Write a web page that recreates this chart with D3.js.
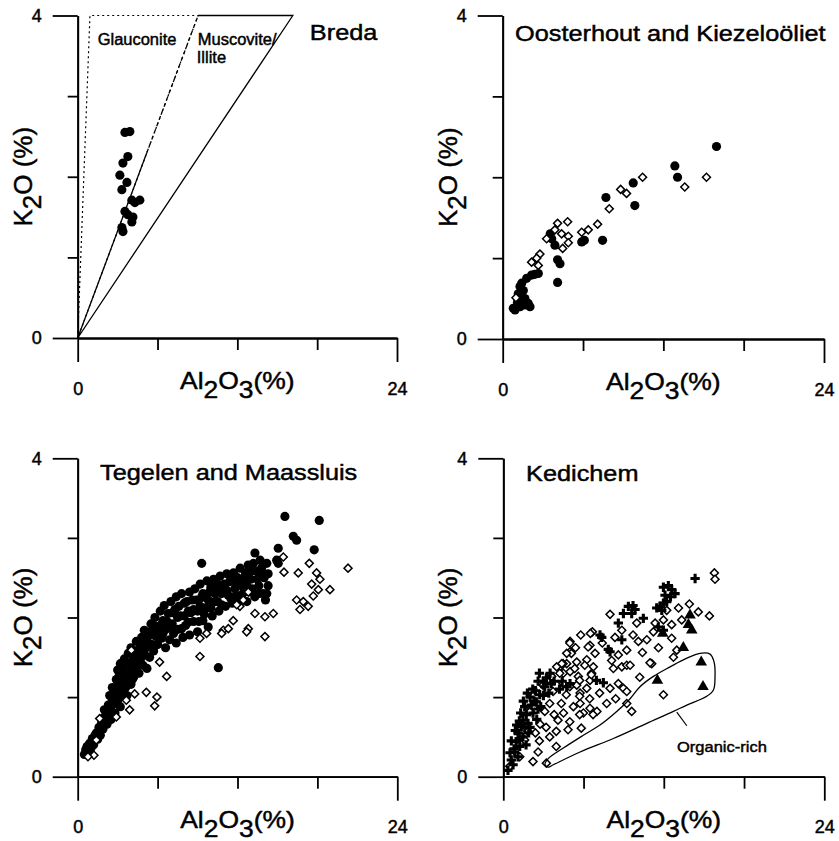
<!DOCTYPE html>
<html>
<head>
<meta charset="utf-8">
<script src="https://cdn.jsdelivr.net/npm/d3@7"></script>
<style>
  body { margin: 0; background: #fff; }
  svg { display: block; }
  text { stroke: #000; stroke-width: 0.45px; }
</style>
</head>
<body>
<svg width="839" height="841"></svg>
<script>
'use strict'

const FONT = '"Liberation Sans", Arial, Helvetica, sans-serif';
const STRETCH = 1.15;

// axis ticks
const majorX = [0, 24];
const minorX = [6, 12, 18];
const majorY = [0, 4];
const minorY = [1, 2, 3];

// panel titles
const titles = ['Breda', 'Oosterhout and Kiezeloöliet', 'Tegelen and Maassluis', 'Kedichem'];

// Breda: clay mineral fields (Al2O3 %, K2O %)
const glauconiteField = [[0, 0], [0.92, 4], [9.05, 4]];
const muscoviteField = [[5.2, 2.3], [0, 0], [16.17, 4], [9.05, 4]];
const muscoviteDashed = [[5.2, 2.3], [9.05, 4]];

const bredaCircles = [
  [3.55, 2.55], [3.92, 2.56], [3.77, 2.25], [3.40, 2.17], [3.17, 2.02], [3.70, 1.93],
  [3.32, 1.84], [4.07, 1.71], [4.67, 1.71], [4.30, 1.68], [3.55, 1.57], [3.77, 1.53],
  [4.15, 1.50], [4.07, 1.44], [3.32, 1.37], [3.40, 1.32]
];

// Oosterhout and Kiezeloöliet
const oostCircles = [
  [15.97, 2.38], [12.86, 2.14], [13.06, 2.00], [9.87, 1.65], [9.75, 1.93], [7.71, 1.75],
  [7.46, 1.22], [5.90, 1.20], [6.10, 1.22], [4.10, 0.98], [4.28, 0.93], [4.10, 0.70],
  [3.66, 1.24], [3.90, 1.16], [3.55, 1.30], [2.66, 0.81], [2.40, 0.80], [2.16, 0.79],
  [1.79, 0.75], [1.42, 0.69], [1.29, 0.65], [1.16, 0.56], [1.91, 0.44], [1.66, 0.42],
  [2.04, 0.40], [0.92, 0.36], [0.79, 0.38], [1.54, 0.60], [1.66, 0.50], [1.40, 0.50],
  [1.10, 0.45], [1.30, 0.40]
];
const oostDiamonds = [
  [15.22, 2.00], [13.60, 1.88], [10.45, 2.00], [8.81, 1.85], [9.25, 1.80], [7.96, 1.61],
  [7.09, 1.42], [6.39, 1.35], [5.90, 1.32], [4.85, 1.45], [4.10, 1.43], [4.40, 1.30],
  [4.90, 1.27], [4.90, 1.19], [4.48, 1.12], [3.90, 1.35], [3.28, 1.24], [2.78, 1.05],
  [2.54, 1.00], [2.16, 0.95], [2.66, 0.91], [0.99, 0.51]
];

// Tegelen and Maassluis
const tegelenCircles = [
  [0.5, 0.28], [0.6, 0.34], [0.7, 0.38], [0.8, 0.30], [0.9, 0.42], [1.0, 0.36], [1.1, 0.48], [1.2, 0.40],
  [1.3, 0.52], [1.4, 0.55], [1.5, 0.47], [1.6, 0.62], [1.7, 0.52], [1.7, 0.60], [1.8, 0.68], [1.9, 0.60],
  [2.0, 0.75], [2.0, 0.84], [2.1, 0.70], [2.2, 0.66], [2.3, 0.90], [2.3, 0.78], [2.4, 1.02], [2.4, 0.82],
  [2.5, 0.72], [2.5, 0.88], [2.6, 1.12], [2.6, 0.96], [2.7, 0.94], [2.8, 0.80], [2.8, 1.05], [2.9, 1.22],
  [2.9, 0.92], [2.9, 1.06], [3.0, 1.34], [3.0, 1.14], [3.0, 0.96], [3.1, 1.00], [3.1, 1.26], [3.2, 1.42],
  [3.2, 0.88], [3.3, 1.14], [3.3, 1.30], [3.4, 1.05], [3.4, 1.20], [3.4, 1.36], [3.5, 1.48], [3.5, 1.25],
  [3.6, 1.12], [3.6, 1.28], [3.7, 1.02], [3.7, 1.42], [3.8, 1.55], [3.8, 1.20], [3.9, 1.40], [4.0, 1.16],
  [4.0, 1.32], [4.0, 1.62], [4.1, 1.45], [4.1, 1.22], [4.2, 1.25], [4.2, 1.52], [4.3, 1.58], [4.3, 1.38],
  [4.4, 1.70], [4.5, 1.40], [4.5, 1.58], [4.6, 1.30], [4.6, 1.48], [4.7, 1.62], [4.8, 1.75], [4.8, 1.50],
  [4.9, 1.40], [4.9, 1.65], [5.0, 1.55], [5.0, 1.84], [5.1, 1.62], [5.2, 1.36], [5.2, 1.75], [5.3, 1.68],
  [5.4, 1.50], [5.4, 1.82], [5.5, 1.92], [5.6, 1.78], [5.6, 1.66], [5.7, 1.58], [5.7, 1.90], [5.8, 2.00],
  [5.9, 1.76], [6.0, 1.66], [6.0, 1.85], [6.2, 2.08], [6.2, 1.90], [6.3, 1.74], [6.4, 1.96], [6.4, 1.80],
  [6.5, 2.15], [6.6, 1.62], [6.6, 1.85], [6.7, 1.95], [6.8, 2.05], [6.9, 1.72], [6.9, 1.88], [7.0, 2.20],
  [7.1, 1.92], [7.1, 2.06], [7.2, 1.80], [7.3, 2.10], [7.4, 1.68], [7.4, 2.26], [7.5, 1.85], [7.5, 2.00],
  [7.6, 2.14], [7.7, 2.02], [7.8, 2.30], [7.8, 1.86], [7.9, 1.75], [8.0, 2.18], [8.0, 2.02], [8.1, 1.90],
  [8.2, 2.20], [8.3, 2.08], [8.3, 1.94], [8.4, 2.32], [8.4, 1.78], [8.5, 2.06], [8.6, 2.22], [8.7, 1.95],
  [8.7, 2.10], [8.8, 2.36], [8.9, 2.22], [9.0, 2.08], [9.0, 1.82], [9.1, 1.95], [9.2, 2.42], [9.2, 2.14],
  [9.3, 2.25], [9.4, 1.96], [9.4, 2.30], [9.5, 2.04], [9.6, 2.12], [9.7, 2.46], [9.8, 1.88], [9.8, 2.22],
  [9.9, 2.32], [10.0, 2.38], [10.0, 2.12], [10.1, 2.02], [10.2, 2.48], [10.3, 2.20], [10.3, 2.30],
  [10.4, 2.38], [10.5, 2.20], [10.5, 2.42], [10.6, 2.08], [10.7, 2.52], [10.8, 2.30], [10.8, 2.16],
  [10.9, 2.38], [11.0, 2.42], [11.1, 2.14], [11.2, 2.55], [11.2, 2.34], [11.3, 2.28], [11.4, 2.45],
  [11.5, 2.24], [11.5, 2.50], [11.6, 2.18], [11.7, 2.56], [11.8, 2.36], [11.9, 2.28], [12.0, 2.50],
  [12.0, 2.42], [12.1, 2.22], [12.2, 2.62], [12.3, 2.40], [12.4, 2.30], [12.5, 2.50], [12.6, 2.56],
  [12.7, 2.20], [12.7, 2.40], [12.8, 2.66], [12.9, 2.32], [13.0, 2.48], [13.0, 2.58], [13.1, 2.36],
  [13.2, 2.68], [13.3, 2.26], [13.4, 2.58], [13.5, 2.48], [13.6, 2.40], [13.6, 2.30], [13.7, 2.72],
  [13.8, 2.62], [13.9, 2.30], [13.9, 2.56], [14.0, 2.50], [14.1, 2.22], [14.2, 2.68], [14.2, 2.30],
  [14.3, 2.40], [14.3, 2.55],
  [15.56, 3.27], [18.14, 3.22], [16.19, 3.02], [16.44, 2.97], [15.06, 2.87], [17.76, 2.85],
  [14.94, 2.72], [15.06, 2.68], [13.31, 2.81], [9.31, 2.68], [10.56, 1.37]
];
const tegelenDiamonds = [
  [20.30, 2.62], [18.94, 2.35], [17.39, 2.68], [16.56, 2.56], [15.49, 2.57], [17.94, 2.56],
  [18.19, 2.48], [17.57, 2.42], [18.07, 2.35], [17.69, 2.27], [16.44, 2.22], [16.94, 2.20],
  [17.31, 2.14], [16.69, 2.10], [14.06, 2.01], [14.69, 2.05], [14.06, 1.76], [13.31, 2.05],
  [11.68, 1.96], [12.81, 1.86], [12.69, 1.82], [10.93, 1.84], [10.81, 1.80], [11.31, 1.86],
  [9.18, 1.74], [9.18, 1.51], [9.68, 1.80], [12.43, 2.22], [12.81, 2.32], [12.18, 2.14],
  [11.94, 2.16], [15.44, 2.76], [6.68, 1.26], [6.15, 1.44], [5.15, 1.06], [5.95, 1.00],
  [5.78, 0.89], [4.28, 1.04], [3.90, 0.84], [3.65, 0.96], [4.03, 1.59], [2.90, 0.75],
  [1.65, 0.73], [1.22, 0.27], [0.77, 0.25], [1.40, 0.46]
];

// Kedichem
const kedichemDiamonds = [
  [15.78, 2.56], [15.83, 2.48], [13.91, 2.17], [14.58, 2.07], [15.41, 2.02], [13.34, 1.97],
  [12.59, 1.91], [11.97, 1.97], [11.35, 1.93], [12.59, 1.74], [12.97, 1.59], [12.72, 1.50],
  [11.10, 1.42], [11.97, 1.03], [7.98, 2.04], [5.79, 1.78], [6.66, 1.82], [4.99, 1.70],
  [6.48, 1.65], [6.86, 1.55], [8.35, 1.75], [8.86, 1.84], [9.98, 1.93], [11.22, 1.82],
  [12.22, 2.09], [10.10, 1.70], [10.73, 1.72], [9.23, 1.59], [8.60, 1.53], [8.23, 1.36],
  [8.86, 1.38], [9.23, 1.40], [9.48, 1.40], [10.97, 1.43], [4.74, 1.42], [5.49, 1.44],
  [6.24, 1.47], [6.73, 1.38], [4.24, 1.38], [4.49, 1.30], [4.99, 1.32], [5.61, 1.26],
  [6.61, 1.30], [6.48, 1.21], [6.24, 1.11], [5.49, 1.15], [5.74, 1.05], [7.98, 1.11],
  [8.60, 1.17], [8.98, 1.11], [9.23, 1.07], [7.73, 0.92], [9.23, 0.92], [7.00, 0.82],
  [9.60, 0.82], [6.48, 0.86], [5.74, 0.92], [5.99, 0.80], [5.24, 0.88], [4.99, 1.57],
  [4.97, 1.68], [6.51, 1.80], [6.34, 1.63], [5.09, 1.55], [4.47, 1.42], [6.09, 1.40],
  [4.22, 1.30], [5.34, 1.36], [6.58, 1.28], [5.71, 1.21], [4.97, 1.13], [4.47, 1.17],
  [3.47, 1.21], [2.97, 1.15], [3.72, 1.07], [4.71, 1.03], [5.71, 1.01], [6.46, 0.98],
  [4.34, 0.92], [3.47, 0.92], [1.97, 0.84], [3.10, 0.82], [5.71, 0.78], [6.71, 0.78],
  [4.09, 0.71], [4.97, 0.69], [4.84, 0.59], [5.83, 0.61], [3.96, 0.57], [3.47, 0.50],
  [3.96, 0.38], [2.60, 0.31], [2.22, 0.19], [3.22, 0.17], [1.85, 0.57], [1.60, 0.46],
  [1.23, 0.25], [0.48, 0.13], [4.74, 1.55], [4.37, 1.42], [3.25, 1.21], [3.62, 1.26],
  [3.99, 1.38], [2.00, 0.82], [2.75, 0.66], [3.20, 0.62], [2.40, 0.55], [4.50, 0.80],
  [7.40, 1.68], [8.10, 1.46], [10.40, 1.56], [11.60, 1.62], [10.20, 1.25], [7.20, 1.05],
  [8.40, 0.98], [3.80, 0.78], [2.70, 0.45], [5.40, 1.62], [9.70, 1.78], [13.10, 2.12]
];
const kedichemPlus = [
  [14.34, 2.49], [11.97, 2.38], [12.34, 2.40], [12.59, 2.35], [12.09, 2.28], [12.50, 2.26],
  [12.84, 2.30], [11.97, 2.18], [12.22, 2.20], [11.47, 2.12], [9.35, 2.14], [9.85, 2.10],
  [8.98, 2.05], [9.60, 2.05], [9.70, 2.15], [8.60, 1.93], [10.47, 1.99], [7.23, 1.78],
  [7.36, 1.75], [7.85, 1.60], [7.98, 1.57], [8.86, 1.72], [11.72, 2.14], [11.85, 2.09],
  [11.59, 1.88], [11.97, 1.84], [7.48, 1.18], [6.96, 1.21], [4.99, 1.17], [4.74, 1.13],
  [3.22, 1.24], [3.59, 1.17], [3.10, 1.13], [2.72, 1.03], [2.47, 0.94], [2.09, 0.90],
  [2.22, 0.80], [1.72, 0.78], [1.47, 0.71], [1.85, 0.67], [1.35, 0.63], [1.10, 0.55],
  [1.47, 0.50], [0.97, 0.44], [1.23, 0.38], [0.85, 0.31], [1.10, 0.25], [0.60, 0.21],
  [0.73, 0.15], [0.35, 0.08], [2.00, 1.00], [1.60, 0.88], [2.50, 0.72], [1.90, 0.55],
  [1.20, 0.48], [0.90, 0.58], [2.80, 0.88], [3.00, 1.02], [1.60, 0.62], [0.50, 0.30],
  [0.80, 0.35], [1.00, 0.65], [1.30, 0.80], [1.50, 0.95], [1.80, 1.05], [2.20, 1.10],
  [2.60, 1.20], [2.40, 1.08], [1.20, 0.70], [0.60, 0.45], [1.70, 0.40], [2.00, 0.62],
  [2.30, 0.95], [2.60, 0.85], [3.40, 1.05], [3.80, 1.20], [4.20, 1.10], [4.40, 1.20],
  [3.00, 1.20], [2.70, 1.30], [3.50, 1.30]
];
const kedichemTriangles = [
  [13.96, 2.03], [13.84, 1.91], [14.09, 1.84], [13.46, 1.62], [11.92, 1.80], [14.80, 1.44],
  [14.93, 1.13], [11.52, 1.21]
];
const organicOutline = [
  [3.12, 0.15], [3.37, 0.23], [4.49, 0.36], [5.98, 0.52], [7.23, 0.65], [8.48, 0.82],
  [9.48, 0.98], [10.22, 1.13], [11.22, 1.26], [12.47, 1.38], [13.72, 1.49], [14.71, 1.55],
  [15.46, 1.54], [15.76, 1.44], [15.83, 1.26], [15.71, 1.09], [15.21, 1.01], [13.72, 0.90],
  [12.72, 0.82], [10.73, 0.67], [8.23, 0.48], [5.74, 0.31], [3.74, 0.15], [3.37, 0.12]
];
const organicLeader = [[12.97, 0.81], [13.72, 0.64]];

const svg = d3.select('svg');

const panels = [
  { left: 77.7, right: 397, top: 15.5, bottom: 338, title: titles[0], titleAt: [17.45, 3.70] },
  { left: 502.7, right: 824, top: 15.5, bottom: 339, title: titles[1], titleAt: [0.92, 3.68] },
  { left: 77.7, right: 397.3, top: 458.3, bottom: 776.7, title: titles[2], titleAt: [1.68, 3.73] },
  { left: 503.3, right: 824.3, top: 458.3, bottom: 776.7, title: titles[3], titleAt: [1.70, 3.71] }
];

function styleAxis(sel) {
  sel.attr('font-size', 18).attr('font-family', FONT);
  sel.selectAll('path, line').attr('stroke', '#000').attr('stroke-width', 1.8);
  sel.selectAll('text').attr('fill', '#000');
}

// text placed at (px, py), stretched horizontally like the scanned lettering
function wideText(g, px, py, size, sx) {
  return g.append('text')
    .attr('transform', `translate(${px},${py}) scale(${sx},1)`)
    .attr('font-family', FONT).attr('font-size', size);
}

function drawFrame(p) {
  const x = d3.scaleLinear().domain([0, 24]).range([p.left, p.right]);
  const y = d3.scaleLinear().domain([0, 4]).range([p.bottom, p.top]);
  const g = svg.append('g');

  g.append('g').attr('transform', `translate(${p.left},0)`)
    .call(d3.axisLeft(y).tickValues(majorY).tickSize(25).tickPadding(11).tickSizeOuter(0).tickFormat(d3.format('d')))
    .call(styleAxis);
  g.append('g').attr('transform', `translate(${p.left},0)`)
    .call(d3.axisLeft(y).tickValues(minorY).tickSize(10).tickSizeOuter(0).tickFormat(''))
    .call(styleAxis);
  g.append('g').attr('transform', `translate(0,${p.bottom})`)
    .call(d3.axisBottom(x).tickValues(majorX).tickSize(24).tickPadding(20).tickSizeOuter(0).tickFormat(d3.format('d')))
    .call(styleAxis);
  g.append('g').attr('transform', `translate(0,${p.bottom})`)
    .call(d3.axisBottom(x).tickValues(minorX).tickSize(12).tickSizeOuter(0).tickFormat(''))
    .call(styleAxis);

  // x title: Al2O3(%)
  const xt = wideText(g, x(12), p.bottom + 51, 23, STRETCH).attr('text-anchor', 'middle');
  xt.append('tspan').text('Al');
  xt.append('tspan').attr('dy', 9).text('2');
  xt.append('tspan').attr('dy', -9).text('O');
  xt.append('tspan').attr('dy', 9).text('3');
  xt.append('tspan').attr('dy', -9).text('(%)');

  // y title: K2O (%)
  const yt = g.append('text')
    .attr('transform', `translate(${p.left - 46},${y(2)}) rotate(-90)`)
    .attr('text-anchor', 'middle')
    .attr('font-family', FONT).attr('font-size', 26);
  yt.append('tspan').text('K');
  yt.append('tspan').attr('dy', 9).text('2');
  yt.append('tspan').attr('dy', -9).text('O (%)');

  wideText(g, x(p.titleAt[0]), y(p.titleAt[1]), 22, STRETCH).text(p.title);

  return { g, x, y };
}

function drawMarks(c, data, kind) {
  let gen;
  if (kind === 'circle') gen = d3.symbol(d3.symbolCircle, 66);
  if (kind === 'diamond') gen = d3.symbol(d3.symbolSquare, 32);
  if (kind === 'plus') gen = d3.symbol(d3.symbolCross, 48);
  if (kind === 'triangle') gen = d3.symbol(d3.symbolTriangle, 58);
  c.g.append('g').selectAll('path')
    .data(data)
    .join('path')
    .attr('d', gen)
    .attr('transform', d => `translate(${c.x(d[0])},${c.y(d[1])})` + (kind === 'diamond' ? ' rotate(45)' : ''))
    .attr('fill', kind === 'diamond' ? '#fff' : '#000')
    .attr('stroke', kind === 'diamond' ? '#000' : 'none')
    .attr('stroke-width', 1.5);
}

const line = c => d3.line().x(d => c.x(d[0])).y(d => c.y(d[1]));

// Breda
const p1 = drawFrame(panels[0]);
p1.g.append('path').datum(glauconiteField)
  .attr('d', d => line(p1)(d) + 'Z')
  .attr('fill', 'none').attr('stroke', '#000').attr('stroke-width', 1.2).attr('stroke-dasharray', '2,3');
p1.g.append('path').datum(muscoviteField)
  .attr('d', line(p1))
  .attr('fill', 'none').attr('stroke', '#000').attr('stroke-width', 1.3);
p1.g.append('path').datum(muscoviteDashed)
  .attr('d', line(p1))
  .attr('fill', 'none').attr('stroke', '#000').attr('stroke-width', 1.3).attr('stroke-dasharray', '4,3');
wideText(p1.g, p1.x(1.5), p1.y(3.63), 16, 1.03).text('Glauconite');
wideText(p1.g, p1.x(9.03), p1.y(3.63), 16, 1.03).text('Muscovite/');
wideText(p1.g, p1.x(8.95), p1.y(3.41), 16, 1.03).text('Illite');
drawMarks(p1, bredaCircles, 'circle');

// Oosterhout and Kiezeloöliet
const p2 = drawFrame(panels[1]);
drawMarks(p2, oostCircles, 'circle');
drawMarks(p2, oostDiamonds, 'diamond');

// Tegelen and Maassluis
const p3 = drawFrame(panels[2]);
drawMarks(p3, tegelenCircles, 'circle');
drawMarks(p3, tegelenDiamonds, 'diamond');

// Kedichem
const p4 = drawFrame(panels[3]);
drawMarks(p4, kedichemDiamonds, 'diamond');
drawMarks(p4, kedichemPlus, 'plus');
drawMarks(p4, kedichemTriangles, 'triangle');
p4.g.append('path').datum(organicOutline)
  .attr('d', d3.line().x(d => p4.x(d[0])).y(d => p4.y(d[1])).curve(d3.curveCatmullRomClosed))
  .attr('fill', 'none').attr('stroke', '#000').attr('stroke-width', 1.3);
p4.g.append('path').datum(organicLeader)
  .attr('d', line(p4))
  .attr('fill', 'none').attr('stroke', '#000').attr('stroke-width', 1.2);
wideText(p4.g, p4.x(12.99), p4.y(0.31), 15, 1.1).text('Organic-rich');
</script>
</body>
</html>
